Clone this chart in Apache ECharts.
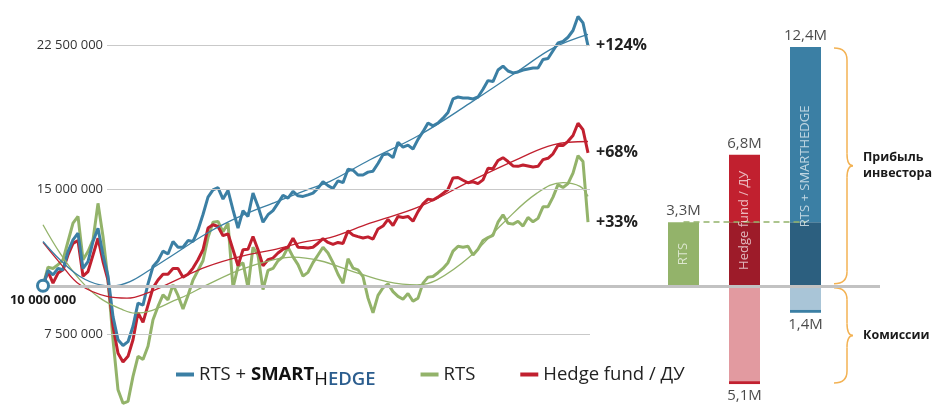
<!DOCTYPE html>
<html>
<head>
<meta charset="utf-8">
<title>RTS + SMARTHEDGE</title>
<script src="https://cdn.jsdelivr.net/npm/echarts@6/dist/echarts.min.js"></script>
<style>
    html, body { margin: 0; padding: 0; background: #fff; }
    #chart { width: 933px; height: 407px; }
</style>
</head>
<body>
<div id="chart"></div>
<script>
// все значения в млн
var seriesNames = ['RTS + SMARTHEDGE', 'RTS', 'Hedge fund / ДУ'];
var endLabels = ['+124%', '+33%', '+68%'];
var startValue = 10;
var yTicks = [7.5, 15, 22.5];

var smart = [10.0, 10.8, 10.57, 10.9, 10.83, 11.78, 12.38, 12.73, 10.9, 11.26, 12.3, 12.99, 11.6, 10.5, 8.4, 7.2, 6.9, 7.1, 7.9, 9.1, 9.0, 10.1, 11.0, 11.3, 11.8, 11.65, 12.3, 12.0,
    12.0, 12.35, 12.3, 12.9, 13.7, 14.6, 14.98, 15.1, 14.5, 14.95, 13.94, 13.0, 13.9, 13.6, 14.81, 14.12, 13.3, 13.69, 13.9, 14.29, 14.7, 14.55, 14.9, 14.67, 14.64, 14.72, 14.81, 15.07,
    15.4, 15.2, 15.05, 15.45, 15.35, 16.05, 16.0, 15.75, 15.75, 15.9, 15.95, 16.35, 16.8, 16.85, 16.65, 17.45, 17.2, 17.3, 17.1, 17.6, 18.0, 18.45, 18.3, 18.45, 18.7, 19.0, 19.7, 19.8, 19.75, 19.75, 19.7, 19.8, 20.2, 20.65, 20.6, 21.2, 21.4, 21.15, 21.05, 21.1, 21.2, 21.25, 21.3, 21.3, 21.75, 21.8, 22.2, 22.6, 22.68, 22.9, 23.25, 23.98, 23.65, 22.45];
var hedge = [10.0, 10.74, 10.14, 10.66, 10.83, 11.6, 12.2, 12.35, 10.5, 10.74, 11.6, 12.47, 11.26, 10.3, 7.9, 6.5, 6.05, 6.34, 7.2, 8.6, 8.1, 9.0, 9.9, 10.3, 10.6, 10.6, 10.9, 10.9,
    10.45, 10.6, 10.92, 11.35, 11.87, 13.0, 13.17, 13.08, 12.6, 12.7, 11.87, 11.04, 11.87, 11.9, 12.56, 11.87, 11.04, 11.35, 11.44, 11.7, 11.9, 12.0, 12.47, 12.0, 11.99, 11.96, 12.0, 12.21,
    12.45, 12.25, 12.15, 12.25, 12.2, 12.85, 12.63, 12.55, 12.48, 12.54, 12.42, 12.95, 13.1, 13.45, 13.13, 13.6, 13.55, 13.6, 13.35, 13.85, 14.25, 14.5, 14.45, 14.6, 14.8, 15.0, 15.6, 15.62, 15.48, 15.35, 15.4, 15.3, 15.5, 16.1, 16.08, 16.5, 16.65, 16.45, 16.22, 16.2, 16.27, 16.22, 16.17, 16.2, 16.55, 16.62, 16.85, 17.3, 17.28, 17.5, 17.8, 18.44, 18.1, 16.9];
var rts = [10.0, 10.97, 10.9, 11.09, 11.35, 12.3, 13.25, 13.6, 11.35, 11.78, 12.38, 14.28, 12.56, 10.3, 7.2, 4.6, 3.9, 4.0, 5.3, 6.34, 6.17, 6.86, 8.24, 8.93, 9.53, 9.27, 10.05, 9.5,
    8.8, 9.5, 10.3, 10.8, 11.3, 12.5, 13.3, 13.34, 12.8, 13.25, 9.9, 11.0, 11.2, 9.9, 12.0, 11.6, 9.8, 10.8, 10.9, 11.3, 11.5, 12.0, 11.5, 11.1, 10.5, 10.7, 11.2, 11.6,
    12.0, 11.7, 11.2, 10.6, 10.13, 11.4, 10.92, 10.83, 10.48, 9.36, 8.6, 9.5, 9.9, 10.1, 9.7, 9.45, 9.3, 9.6, 9.2, 9.36, 10.14, 10.45, 10.48, 10.68, 10.9, 11.2, 11.8, 12.05, 12.0, 12.05, 11.6, 11.9, 12.35, 12.5, 12.62, 13.3, 13.68, 13.25, 13.2, 13.35, 13.1, 13.55, 13.32, 13.5, 14.1, 14.1, 14.6, 15.25, 15.1, 15.3, 15.85, 16.75, 16.45, 13.3];

// линии тренда: позиция (номер точки) и значение
var trendSmartX = [0, 3.4, 7.4, 11.4, 13.8, 17.4, 21.4, 26, 32.8, 39.4, 46, 52.8, 57.4, 65.4, 75.4, 85.4, 95.4, 102, 109];
var trendSmart = [12.3, 11.35, 10.48, 10.05, 10.0, 10.22, 10.83, 11.6, 12.73, 13.6, 14.29, 14.98, 15.42, 16.54, 17.84, 19.48, 21.21, 22.34, 23.05];
var trendHedgeX = [0, 3.4, 7.4, 12.8, 16.8, 20.8, 26, 32.8, 39.4, 46, 52.8, 57.4, 65.4, 75.4, 85.4, 95.4, 102, 109];
var trendHedge = [12.25, 11.18, 10.05, 9.45, 9.36, 9.62, 10.22, 11.0, 11.52, 11.87, 12.3, 12.5, 13.25, 14.12, 15.42, 16.63, 17.32, 17.49];
var trendRtsX = [0, 3.4, 7.4, 11.4, 16, 18.4, 27.4, 32.8, 39.4, 46, 50, 55.4, 62, 68.8, 74.8, 78.8, 85.4, 92, 98.8, 104, 107.4, 109];
var trendRts = [13.17, 11.7, 10.31, 9.36, 8.75, 8.58, 9.36, 10.05, 10.83, 11.35, 11.49, 11.3, 10.74, 10.22, 10.05, 10.31, 11.52, 13.25, 14.81, 15.36, 15.16, 14.64];

// столбцы справа
var barNames = ['RTS', 'Hedge fund / ДУ', 'RTS + SMARTHEDGE'];
var profit = [3.3, 6.8, 12.4];
var fees = [0, 5.1, 1.4];
var braceLabels = ['Прибыль\nинвестора', 'Комиссии'];

var BLUE = '#3b7fa4', RED = '#c1202f', GREEN = '#93b36a';
var FONT = '"Open Sans", "Noto Sans", sans-serif';

// масштаб по вертикали: 7,5 млн = 289 px, уровень 10 млн на y = 285.8
var PX_PER_M = 289 / 15, BASE_Y = 285.8, H = 407;
var Y_MIN = startValue - (H - BASE_Y) / PX_PER_M;
var Y_MAX = startValue + BASE_Y / PX_PER_M;

var cats = smart.map(function (v, i) { return String(i); });

function money(v) {
    return String(Math.round(v * 1e6)).replace(/\B(?=(\d{3})+(?!\d))/g, ' ');
}
function mln(v) {
    return v.toFixed(1).replace('.', ',') + 'M';
}
function pairs(xs, ys) {
    return xs.map(function (x, i) { return [x, ys[i]]; });
}

var lower = profit.map(function (p) { return Math.min(p, profit[0]); });
var upper = profit.map(function (p, i) { return +(p - lower[i]).toFixed(2); });
var edge = fees.map(function (f) { return f > 0 ? 0.15 : 0; });
var feeBody = fees.map(function (f, i) { return -(f - edge[i]); });
var feeEdge = edge.map(function (e) { return -e; });

var lowerColors = [GREEN, '#9d1b29', '#2c5f7f'];
var upperColors = [GREEN, RED, BLUE];
var feeColors = ['#e29aa0', '#e29aa0', '#a9c5d7'];
var edgeColors = [RED, RED, BLUE];

function colored(arr, colors) {
    return arr.map(function (v, i) { return { value: v, itemStyle: { color: colors[i] } }; });
}
function barSeries(name, arr, colors) {
    return {
        type: 'bar', name: name, xAxisIndex: 4, yAxisIndex: 3, stack: 'bars',
        stackStrategy: 'samesign', barWidth: 31, z: 2, data: colored(arr, colors)
    };
}

var chart = echarts.init(document.getElementById('chart'));

var option = {
    animation: false,
    backgroundColor: '#fff',
    textStyle: { fontFamily: FONT },
    grid: [
        { left: 43, right: 345, top: 0, bottom: 0 },
        { left: 107, right: 343, top: 0, bottom: 0 },
        { left: 43, right: 53, top: 0, bottom: 0 },
        { left: 653, right: 97, top: 0, bottom: 0 }
    ],
    xAxis: [
        { gridIndex: 0, type: 'category', data: cats, boundaryGap: false, show: false },
        { gridIndex: 0, type: 'value', min: 0, max: cats.length - 1, show: false },
        { gridIndex: 1, type: 'value', min: 0, max: 1, show: false },
        { gridIndex: 2, type: 'value', min: 0, max: 1, show: false },
        { gridIndex: 3, type: 'category', data: barNames, show: false }
    ],
    yAxis: [
        { gridIndex: 0, type: 'value', min: Y_MIN, max: Y_MAX, show: false },
        { gridIndex: 1, type: 'value', min: Y_MIN, max: Y_MAX, show: false },
        { gridIndex: 2, type: 'value', min: Y_MIN, max: Y_MAX, show: false },
        { gridIndex: 3, type: 'value', min: Y_MIN - startValue, max: Y_MAX - startValue, show: false }
    ],
    legend: {
        data: seriesNames,
        left: 176, top: 365, padding: 0,
        icon: 'rect', itemWidth: 18, itemHeight: 4, itemGap: 45,
        textStyle: {
            fontSize: 18.5, color: '#222', fontFamily: FONT,
            rich: {
                n: { fontSize: 18.5, color: '#222', fontFamily: FONT },
                b: { fontSize: 18.5, color: '#111', fontWeight: 'bold', fontFamily: FONT },
                h: { fontSize: 18.5, color: '#111', fontFamily: FONT, padding: [11, 0, 0, 0] },
                e: { fontSize: 18.5, color: '#2b5d8e', fontWeight: 600, fontFamily: FONT, padding: [11, 0, 0, 0] }
            }
        },
        formatter: function (name) {
            return name === seriesNames[0] ? '{n|RTS + }{b|SMART}{h|H}{e|EDGE}' : name;
        }
    },
    series: [
        // горизонтальные линии сетки с подписями
        {
            type: 'line', name: 'gridLines', xAxisIndex: 2, yAxisIndex: 1, data: [], z: 1,
            markLine: {
                silent: true, symbol: 'none',
                lineStyle: { color: '#c9c9c9', width: 1, type: 'solid' },
                label: {
                    show: true, position: 'start', distance: 4, fontSize: 13, color: '#333', fontFamily: FONT,
                    formatter: function (p) { return money(p.value); }
                },
                data: yTicks.map(function (v) { return { yAxis: v }; })
            }
        },
        {
            type: 'line', name: 'base', xAxisIndex: 3, yAxisIndex: 2, data: [], z: 1,
            markLine: {
                silent: true, symbol: 'none', label: { show: false },
                lineStyle: { color: '#c2c2c2', width: 3, type: 'solid' },
                data: [{ yAxis: startValue }]
            }
        },
        {
            type: 'line', name: seriesNames[1], data: rts, xAxisIndex: 0, yAxisIndex: 0,
            symbol: 'none', z: 3, color: GREEN,
            lineStyle: { color: GREEN, width: 3 }, itemStyle: { color: GREEN },
            endLabel: { show: true, formatter: endLabels[1], fontSize: 16, fontWeight: 'bold', color: '#222', distance: 8 }
        },
        {
            type: 'line', name: seriesNames[2], data: hedge, xAxisIndex: 0, yAxisIndex: 0,
            symbol: 'none', z: 3, color: RED,
            lineStyle: { color: RED, width: 3 }, itemStyle: { color: RED },
            endLabel: { show: true, formatter: endLabels[2], fontSize: 16, fontWeight: 'bold', color: '#222', distance: 8 }
        },
        {
            type: 'line', name: seriesNames[0], data: smart, xAxisIndex: 0, yAxisIndex: 0,
            symbol: 'none', z: 3, color: BLUE,
            lineStyle: { color: BLUE, width: 3 }, itemStyle: { color: BLUE },
            endLabel: { show: true, formatter: endLabels[0], fontSize: 16, fontWeight: 'bold', color: '#222', distance: 8 }
        },
        {
            type: 'line', name: 'trendRts', data: pairs(trendRtsX, trendRts), xAxisIndex: 1, yAxisIndex: 0,
            smooth: 0.4, symbol: 'none', z: 4, lineStyle: { color: GREEN, width: 1.3 }
        },
        {
            type: 'line', name: 'trendHedge', data: pairs(trendHedgeX, trendHedge), xAxisIndex: 1, yAxisIndex: 0,
            smooth: 0.4, symbol: 'none', z: 4, lineStyle: { color: RED, width: 1.3 }
        },
        {
            type: 'line', name: 'trendSmart', data: pairs(trendSmartX, trendSmart), xAxisIndex: 1, yAxisIndex: 0,
            smooth: 0.4, symbol: 'none', z: 4, lineStyle: { color: BLUE, width: 1.3 },
            markPoint: {
                symbol: 'circle', symbolSize: 11,
                itemStyle: { color: '#fff', borderColor: BLUE, borderWidth: 3 },
                label: {
                    show: true, position: 'bottom', distance: 1, formatter: money(startValue),
                    fontSize: 13, fontWeight: 'bold', color: '#1a1a1a', fontFamily: FONT
                },
                data: [{ coord: [0, startValue] }]
            }
        },
        // пунктир уровня RTS
        {
            type: 'line', name: 'rtsLevel', xAxisIndex: 4, yAxisIndex: 3, data: [null, null, null], z: 1,
            markLine: {
                silent: true, symbol: 'none', label: { show: false },
                lineStyle: { color: GREEN, width: 1.5, type: [6, 4] },
                data: [[{ coord: [barNames[0], profit[0]] }, { coord: [barNames[2], profit[0]] }]]
            }
        },
        barSeries('lower', lower, lowerColors),
        barSeries('upper', upper, upperColors),
        barSeries('fee', feeBody, feeColors),
        barSeries('feeEdge', feeEdge, edgeColors),
        {
            type: 'scatter', name: 'profitLabel', xAxisIndex: 4, yAxisIndex: 3, symbolSize: 0, z: 5,
            data: profit,
            label: {
                show: true, position: 'top', distance: 4, fontSize: 15, color: '#1a1a1a', fontFamily: FONT,
                formatter: function (p) { return mln(p.value); }
            }
        },
        {
            type: 'scatter', name: 'feeLabel', xAxisIndex: 4, yAxisIndex: 3, symbolSize: 0, z: 5,
            data: fees.map(function (f) { return f > 0 ? -f : null; }),
            label: {
                show: true, position: 'bottom', distance: 4, fontSize: 15, color: '#1a1a1a', fontFamily: FONT,
                formatter: function (p) { return mln(-p.value); }
            }
        },
        {
            type: 'scatter', name: 'barName', xAxisIndex: 4, yAxisIndex: 3, symbolSize: 0, z: 5,
            data: profit.map(function (p) { return p / 2; }),
            label: {
                show: true, position: 'inside', rotate: 90, fontSize: 13,
                color: 'rgba(255,255,255,0.85)', fontFamily: FONT,
                formatter: function (p) { return barNames[p.dataIndex]; }
            },
            labelLayout: { hideOverlap: false }
        }
    ]
};

chart.setOption(option);

// фигурные скобки справа
function brace(x0, y0, y1, color) {
    var x1 = x0 + 13, ym = (y0 + y1) / 2, r = 12, c = 6;
    var st = { stroke: color, lineWidth: 1.5, fill: null };
    function q(ax, ay, cx, cy, bx, by) {
        return { type: 'bezierCurve', shape: { x1: ax, y1: ay, cpx1: cx, cpy1: cy, x2: bx, y2: by }, style: st, silent: true };
    }
    function l(ax, ay, bx, by) {
        return { type: 'line', shape: { x1: ax, y1: ay, x2: bx, y2: by }, style: st, silent: true };
    }
    return [
        q(x0, y0, x1, y0, x1, y0 + r),
        l(x1, y0 + r, x1, ym - r),
        q(x1, ym - r, x1, ym, x1 + c, ym),
        q(x1 + c, ym, x1, ym, x1, ym + r),
        l(x1, ym + r, x1, y1 - r),
        q(x1, y1 - r, x1, y1, x0, y1)
    ];
}
var finder = { xAxisIndex: 4, yAxisIndex: 3 };
var last = barNames.length - 1;
var pTop = chart.convertToPixel(finder, [barNames[last], profit[last]]);
var pZero = chart.convertToPixel(finder, [barNames[last], 0]);
var pFee = chart.convertToPixel(finder, [barNames[1], -fees[1]]);
var bx = pTop[0] + 15.5 + 13;
var spans = [[pTop[1] + 1, pZero[1] - 2], [pZero[1] + 2, pFee[1] - 1]];
var graphics = [];
spans.forEach(function (b, i) {
    graphics = graphics.concat(brace(bx, b[0], b[1], '#f3b253'));
    graphics.push({
        type: 'text', x: bx + 29, y: (b[0] + b[1]) / 2, silent: true,
        style: {
            text: braceLabels[i], fill: '#1a1a1a', font: 'bold 12.5px ' + FONT,
            verticalAlign: 'middle', align: 'left', lineHeight: 16
        }
    });
});
chart.setOption({ graphic: graphics });
</script>
</body>
</html>
